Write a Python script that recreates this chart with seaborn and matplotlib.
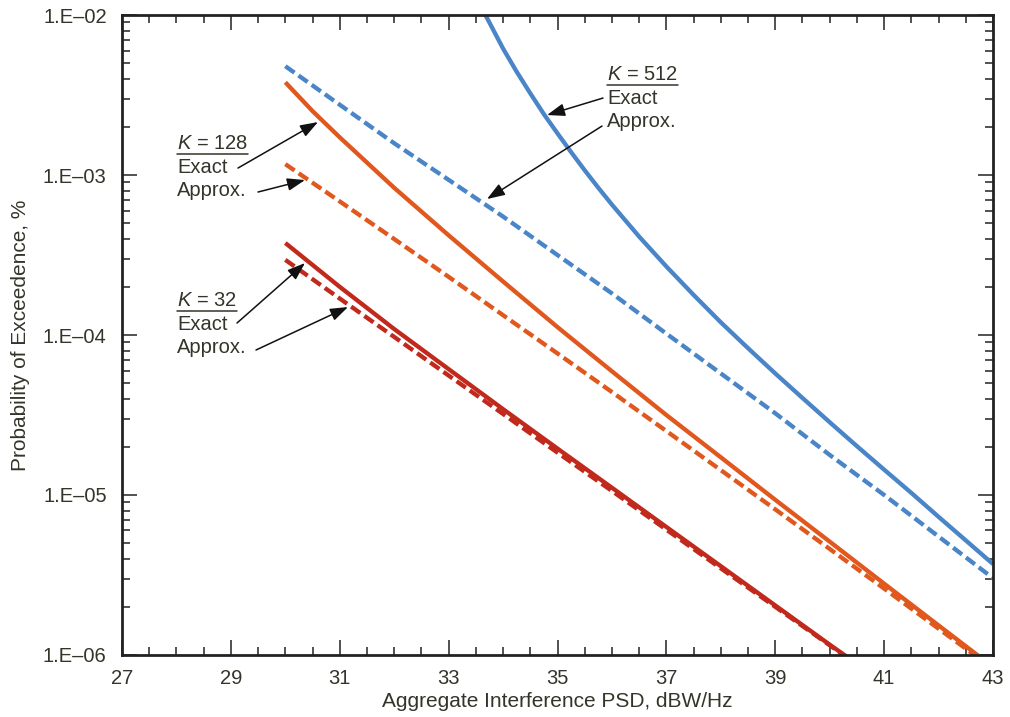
import numpy as np
import pandas as pd
import matplotlib
matplotlib.use("Agg")
import matplotlib.pyplot as plt
from matplotlib.lines import Line2D
from matplotlib.ticker import FixedLocator, FixedFormatter, NullFormatter, LogLocator
import seaborn as sns

# ---------------- data ----------------
x_k32 = [30, 31, 32, 33, 34, 35, 36, 37, 38, 39, 40, 40.5]
k32_exact = [3.76e-4, 2.00e-4, 1.09e-4, 6.12e-5, 3.44e-5, 1.95e-5, 1.11e-5,
             6.31e-6, 3.59e-6, 2.04e-6, 1.16e-6, 8.81e-7]
k32_approx = [2.95e-4, 1.69e-4, 9.73e-5, 5.58e-5, 3.21e-5, 1.84e-5, 1.06e-5,
              6.07e-6, 3.48e-6, 2.00e-6, 1.15e-6, 8.71e-7]

x_k128_exact = [30, 30.5, 31, 32, 33, 34, 35, 36, 37, 38, 39, 40, 41, 42, 43]
k128_exact = [3.80e-3, 2.51e-3, 1.72e-3, 8.32e-4, 4.20e-4, 2.16e-4, 1.12e-4,
              5.93e-5, 3.16e-5, 1.72e-5, 9.33e-6, 5.11e-6, 2.79e-6, 1.53e-6, 8.41e-7]
x_k128_approx = [30, 31, 32, 33, 34, 35, 36, 37, 38, 39, 40, 41, 42, 43]
k128_approx = [1.17e-3, 6.84e-4, 3.98e-4, 2.31e-4, 1.33e-4, 7.67e-5, 4.40e-5,
               2.51e-5, 1.43e-5, 8.13e-6, 4.60e-6, 2.60e-6, 1.46e-6, 8.22e-7]

x_k512_exact = [33.6, 33.8, 34.0, 34.25, 34.5, 34.75, 35.0, 35.25, 35.5, 35.75,
                36.0, 36.5, 37.0, 37.5, 38.0, 38.5, 39.0, 39.5, 40.0, 40.5,
                41.0, 41.5, 42.0, 42.5, 43.0]
k512_exact = [1.12e-2, 8.32e-3, 6.17e-3, 4.42e-3, 3.24e-3, 2.40e-3, 1.82e-3,
              1.39e-3, 1.07e-3, 8.32e-4, 6.53e-4, 4.12e-4, 2.68e-4, 1.78e-4,
              1.20e-4, 8.27e-5, 5.75e-5, 4.04e-5, 2.85e-5, 2.02e-5, 1.44e-5,
              1.03e-5, 7.30e-6, 5.20e-6, 3.70e-6]
x_k512_approx = [30, 31, 32, 33, 34, 35, 36, 37, 38, 39, 40, 41, 42, 43]
k512_approx = [4.79e-3, 2.75e-3, 1.58e-3, 9.33e-4, 5.50e-4, 3.16e-4, 1.82e-4,
               1.02e-4, 5.75e-5, 3.24e-5, 1.78e-5, 1.00e-5, 5.50e-6, 3.02e-6]

x_ticks = [27, 29, 31, 33, 35, 37, 39, 41, 43]
y_ticks = [1e-6, 1e-5, 1e-4, 1e-3, 1e-2]
y_tick_labels = ["1.E\u201306", "1.E\u201305", "1.E\u201304", "1.E\u201303", "1.E\u201302"]
x_label = "Aggregate Interference PSD, dBW/Hz"
y_label = "Probability of Exceedence, %"

# ---------------- styling ----------------
sns.set_theme(style="white")
TXT = "#34342a"
plt.rcParams["font.family"] = ["Liberation Sans", "DejaVu Sans"]
plt.rcParams["mathtext.fontset"] = "custom"
plt.rcParams["mathtext.it"] = "Liberation Sans:italic"
plt.rcParams["mathtext.rm"] = "Liberation Sans"

C_BLUE = "#4a85c8"
C_ORANGE = "#e0581d"
C_RED = "#c0291b"

frames = []
def add(xs, ys, k, kind):
    frames.append(pd.DataFrame({"x": xs, "y": ys, "K": k, "kind": kind}))
add(x_k32, k32_exact, "32", "Exact")
add(x_k32, k32_approx, "32", "Approx.")
add(x_k128_exact, k128_exact, "128", "Exact")
add(x_k128_approx, k128_approx, "128", "Approx.")
add(x_k512_exact, k512_exact, "512", "Exact")
add(x_k512_approx, k512_approx, "512", "Approx.")
df = pd.concat(frames, ignore_index=True)
df["series"] = df["K"] + " " + df["kind"]

fig = plt.figure(figsize=(10.10, 7.17), dpi=100)
ax = fig.add_axes([0.1208, 0.0865, 0.8624, 0.8925])

palette = {"32 Exact": C_RED, "32 Approx.": C_RED,
           "128 Exact": C_ORANGE, "128 Approx.": C_ORANGE,
           "512 Exact": C_BLUE, "512 Approx.": C_BLUE}
dashes = {s: ("" if s.endswith("Exact") else (2.6, 1.15)) for s in palette}
order = ["32 Approx.", "32 Exact", "128 Approx.", "128 Exact", "512 Approx.", "512 Exact"]
sns.lineplot(data=df, x="x", y="y", hue="series", style="series",
             hue_order=order, style_order=order, palette=palette, dashes=dashes,
             lw=3.1, sort=False, estimator=None, legend=False, ax=ax)
for ln in ax.get_lines():
    ln.set_dash_capstyle("butt")
    ln.set_solid_capstyle("butt")
    ln.set_solid_joinstyle("round")

ax.set_yscale("log")
ax.set_xlim(27, 43)
ax.set_ylim(1e-6, 1e-2)

ax.xaxis.set_major_locator(FixedLocator(x_ticks))
ax.xaxis.set_minor_locator(FixedLocator(np.arange(27, 43.01, 0.5)))
ax.yaxis.set_major_locator(FixedLocator(y_ticks))
ax.yaxis.set_major_formatter(FixedFormatter(y_tick_labels))
ax.yaxis.set_minor_locator(LogLocator(base=10, subs=np.arange(2, 10)))
ax.yaxis.set_minor_formatter(NullFormatter())

ax.tick_params(which="both", direction="in", top=True, right=True, bottom=True,
               left=True, color="#222222", width=1.1)
ax.tick_params(which="major", length=10.5)
ax.tick_params(which="minor", length=6)
ax.tick_params(axis="x", which="major", pad=10, labelsize=14.5, labelcolor=TXT)
ax.tick_params(axis="y", which="major", pad=11, labelsize=14.5, labelcolor=TXT)

for sp in ax.spines.values():
    sp.set_color("#222222")
    sp.set_linewidth(2.0)

ax.set_xlabel(x_label, fontsize=15, color=TXT, labelpad=3)
ax.set_ylabel(y_label, fontsize=15, color=TXT, labelpad=9)

# ---------------- annotations ----------------
def px2data(px, py):
    xx = 27 + (px - 122) / 54.44
    yy = 10 ** (-2 - (py - 15) / 160.0)
    return xx, yy

arrow = dict(arrowstyle="-|>,head_length=0.9,head_width=0.32", color="#111111",
             lw=1.1, shrinkA=0, shrinkB=0, mutation_scale=12)

heads = []
def block(px, py, k):
    t = ax.text(*px2data(px, py), r"$K$ = " + k, fontsize=14.5, color=TXT,
                ha="left", va="center")
    heads.append(t)
    ax.text(*px2data(px, py + 24), "Exact", fontsize=14.5, color=TXT, ha="left", va="center")
    ax.text(*px2data(px, py + 47), "Approx.", fontsize=14.5, color=TXT, ha="left", va="center")

block(177, 143, "128")
block(177, 300, "32")
block(607, 74, "512")

def arr(p0, p1):
    ax.annotate("", xy=px2data(*p1), xytext=px2data(*p0), arrowprops=arrow)

arr((238, 168), (318, 122))
arr((258, 192), (305, 180))
arr((237, 323), (305, 263))
arr((256, 350), (348, 307))
arr((603, 98), (547, 115))
arr((602, 126), (487, 199))

fig.canvas.draw()
r = fig.canvas.get_renderer()
for t in heads:
    bb = t.get_window_extent(r)
    y0 = bb.y0 - 1.0
    (fx0, fy0) = fig.transFigure.inverted().transform((bb.x0, y0))
    (fx1, _) = fig.transFigure.inverted().transform((bb.x1, y0))
    fig.add_artist(Line2D([fx0, fx1], [fy0, fy0], transform=fig.transFigure,
                          color=TXT, lw=1.1))

fig.savefig("out.png", dpi=100)
